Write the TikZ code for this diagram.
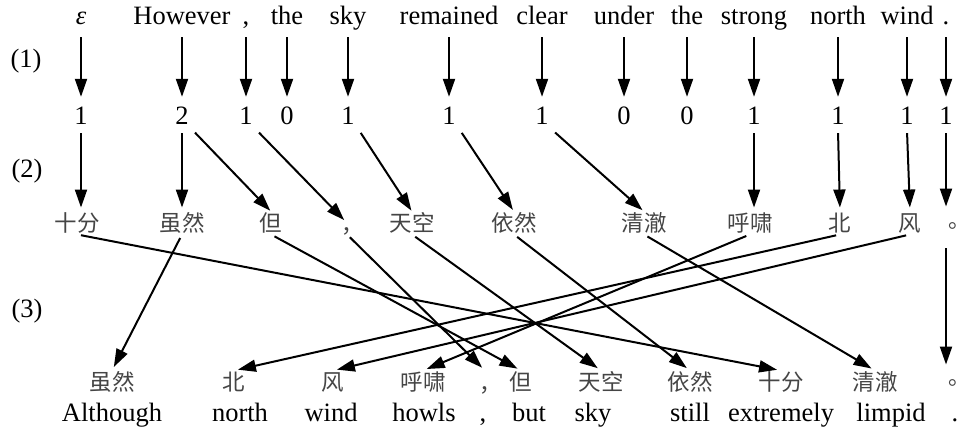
\documentclass[tikz,border=0pt]{standalone}
\usepackage{fontspec}
\usepackage{tikz}
\usetikzlibrary{arrows.meta}
\setmainfont{Liberation Serif}
\newfontfamily\zhfont{Noto Sans CJK SC}
\newfontfamily\zhpunct{Noto Sans CJK TC}
\definecolor{ZHInk}{HTML}{454545}
\newcommand{\zpunct}[2]{\makebox[8pt][c]{\hbox to 0pt{\hss\raisebox{#1}{#2}\hss}}}

\begin{document}
\begin{tikzpicture}[x=1pt,y=-1pt,>={Triangle[length=18pt,width=12pt]}]
\tikzset{enw/.style={font=\fontsize{26.5}{30}\selectfont,inner sep=0pt,text height=18pt,text depth=6pt,anchor=base},num/.style={enw,outer xsep=5pt},zhw/.style={font=\fontsize{22.5}{26}\zhfont,text=ZHInk,inner sep=0pt,text height=19.8pt,text depth=2.7pt},zhp/.style={zhw,font=\fontsize{22.5}{26}\zhpunct},tag/.style={font=\fontsize{26.5}{30}\selectfont,inner sep=0pt},link/.style={->,line width=2pt}}
\useasboundingbox (0,0) rectangle (965,427);
% row labels
\node[tag] (t1) at (26,61) {(1)};
\node[tag] (t2) at (27,171) {(2)};
\node[tag] (t3) at (27,311) {(3)};
% source sentence
\node[enw] (e0) at (81,25) {\textit{ε}};
\node[enw] (e1) at (182,25) {However};
\node[enw] (e2) at (246,25) {,};
\node[enw] (e3) at (287,25) {the};
\node[enw] (e4) at (348,25) {sky};
\node[enw] (e5) at (449,25) {remained};
\node[enw] (e6) at (542,25) {clear};
\node[enw] (e7) at (624,25) {under};
\node[enw] (e8) at (687,25) {the};
\node[enw] (e9) at (754,25) {strong};
\node[enw] (e10) at (838,25) {north};
\node[enw] (e11) at (907,25) {wind};
\node[enw] (e12) at (946,25) {.};
% fertilities
\node[num] (n0) at (81,125) {1};
\node[num] (n1) at (182,125) {2};
\node[num] (n2) at (246,125) {1};
\node[num] (n3) at (287,125) {0};
\node[num] (n4) at (348,125) {1};
\node[num] (n5) at (449,125) {1};
\node[num] (n6) at (542,125) {1};
\node[num] (n7) at (624,125) {0};
\node[num] (n8) at (687,125) {0};
\node[num] (n9) at (754,125) {1};
\node[num] (n10) at (838,125) {1};
\node[num] (n11) at (907,125) {1};
\node[num] (n12) at (946,125) {1};
% copied target words
\node[zhw] (c0) at (77,223) {十分};
\node[zhw] (c1) at (182,223) {虽然};
\node[zhw] (c2) at (271,223) {但};
\node[zhp] (c3) at (347,223) {\zpunct{-8pt}{，}};
\node[zhw] (c4) at (412,223) {天空};
\node[zhw] (c5) at (514,223) {依然};
\node[zhw] (c6) at (644,223) {清澈};
\node[zhw] (c7) at (750,223) {呼啸};
\node[zhw] (c8) at (840,223) {北};
\node[zhw] (c9) at (910,223) {风};
\node[zhp] (c10) at (953,223) {\zpunct{-3pt}{。}};
% reordered target words
\node[zhw] (b0) at (112,382) {虽然};
\node[zhw] (b1) at (234,382) {北};
\node[zhw] (b2) at (333,382) {风};
\node[zhw] (b3) at (423,382) {呼啸};
\node[zhp] (b4) at (485,382) {\zpunct{-8pt}{，}};
\node[zhw] (b5) at (521,382) {但};
\node[zhw] (b6) at (601,382) {天空};
\node[zhw] (b7) at (690,382) {依然};
\node[zhw] (b8) at (781,382) {十分};
\node[zhw] (b9) at (875,382) {清澈};
\node[zhp] (b10) at (953,382) {\zpunct{-1pt}{。}};
% glosses
\node[enw] (g0) at (112,421) {Although};
\node[enw] (g1) at (240,421) {north};
\node[enw] (g2) at (331,421) {wind};
\node[enw] (g3) at (424,421) {howls};
\node[enw] (g4) at (483,421) {,};
\node[enw] (g5) at (529,421) {but};
\node[enw] (g6) at (593,421) {sky};
\node[enw] (g7) at (690,421) {still};
\node[enw] (g8) at (781,421) {extremely};
\node[enw] (g9) at (891,421) {limpid};
\node[enw] (g10) at (955,421) {.};
% (1) source -> fertility
\draw[link,shorten <=6pt,shorten >=10pt] (e0.south) -- (n0.north);
\draw[link,shorten <=6pt,shorten >=10pt] (e1.south) -- (n1.north);
\draw[link,shorten <=6pt,shorten >=10pt] (e2.south) -- (n2.north);
\draw[link,shorten <=6pt,shorten >=10pt] (e3.south) -- (n3.north);
\draw[link,shorten <=6pt,shorten >=10pt] (e4.south) -- (n4.north);
\draw[link,shorten <=6pt,shorten >=10pt] (e5.south) -- (n5.north);
\draw[link,shorten <=6pt,shorten >=10pt] (e6.south) -- (n6.north);
\draw[link,shorten <=6pt,shorten >=10pt] (e7.south) -- (n7.north);
\draw[link,shorten <=6pt,shorten >=10pt] (e8.south) -- (n8.north);
\draw[link,shorten <=6pt,shorten >=10pt] (e9.south) -- (n9.north);
\draw[link,shorten <=6pt,shorten >=10pt] (e10.south) -- (n10.north);
\draw[link,shorten <=6pt,shorten >=10pt] (e11.south) -- (n11.north);
\draw[link,shorten <=6pt,shorten >=10pt] (e12.south) -- (n12.north);
% (2) fertility -> copies
\draw[link,shorten <=2pt,shorten >=4pt] (n0.south) -- (n0 |- c0.north);
\draw[link,shorten <=2pt,shorten >=4pt] (n1.south) -- (c1.north);
\draw[link,shorten <=2pt,shorten >=1pt] (n1.south east) -- (c2.north);
\draw[link,shorten <=2pt,shorten >=4pt] (n2.south east) -- (c3.center);
\draw[link,shorten <=2pt,shorten >=1pt] (n4.south east) -- (c4.north);
\draw[link,shorten <=2pt,shorten >=2pt] (n5.south east) -- (c5.north);
\draw[link,shorten <=2pt,shorten >=2pt] (n6.south east) -- (c6.north);
\draw[link,shorten <=2pt,shorten >=4pt] (n9.south) -- (n9 |- c7.north);
\draw[link,shorten <=2pt,shorten >=4pt] (n10.south) -- (c8.north);
\draw[link,shorten <=2pt,shorten >=4pt] (n11.south) -- (c9.north);
\draw[link,shorten <=2pt,shorten >=5pt] (n12.south) -- (n12 |- c10.north);
% (3) reordering
\draw[link,shorten <=4pt,shorten >=4pt] (c0.south) -- (b8.north);
\draw[link,shorten <=4pt,shorten >=4pt] (c1.south) -- (b0.north);
\draw[link,shorten <=4pt,shorten >=4pt] (c2.south) -- (b5.north);
\draw[link,shorten <=4pt,shorten >=4pt] (c3.south) -- (b4.north);
\draw[link,shorten <=4pt,shorten >=4pt] (c4.south) -- (b6.north);
\draw[link,shorten <=4pt,shorten >=4pt] (c5.south) -- (b7.north);
\draw[link,shorten <=4pt,shorten >=4pt] (c6.south) -- (b9.north);
\draw[link,shorten <=4pt,shorten >=4pt] (c7.south) -- (b3.north);
\draw[link,shorten <=4pt,shorten >=4pt] (c8.south) -- (b1.north);
\draw[link,shorten <=4pt,shorten >=4pt] (c9.south) -- (b2.north);
\draw[link,shorten <=14pt,shorten >=6pt] (n12 |- c10.south) -- (n12 |- b10.north);
\end{tikzpicture}
\end{document}
